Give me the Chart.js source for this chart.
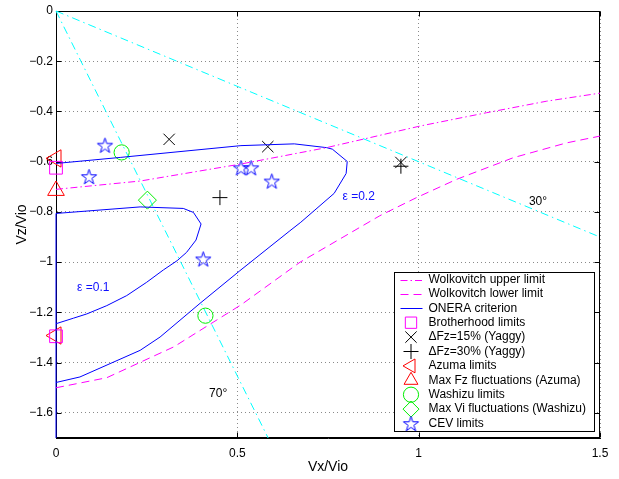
<!DOCTYPE html>
<html>
<head>
<meta charset="utf-8">
<script src="https://cdn.jsdelivr.net/npm/chart.js@4.4.1/dist/chart.umd.min.js"></script>
<style>
  html, body { margin: 0; padding: 0; background: #fff; }
</style>
</head>
<body>
<canvas id="vzChart" width="619" height="479"></canvas>
<script>
// tick values / labels
const xTickValues = [0, 0.5, 1, 1.5];
const xTickLabels = ["0", "0.5", "1", "1.5"];
const yTickValues = [0, -0.2, -0.4, -0.6, -0.8, -1, -1.2, -1.4, -1.6];
const yTickLabels = ["0", "\u22120.2", "\u22120.4", "\u22120.6", "\u22120.8", "\u22121", "\u22121.2", "\u22121.4", "\u22121.6"];

// Wolkovitch limits
const wolkUpperX = [0, 0.232, 0.507, 0.746, 1.004, 1.187, 1.353, 1.5];
const wolkUpperY = [-0.71, -0.677, -0.61, -0.544, -0.458, -0.405, -0.359, -0.327];
const wolkLowerX = [0, 0.14, 0.325, 0.51, 0.673, 0.893, 0.994, 1.105, 1.261, 1.408, 1.5];
const wolkLowerY = [-1.5, -1.46, -1.337, -1.17, -1.0, -0.815, -0.743, -0.67, -0.584, -0.525, -0.498];

// ONERA criterion, eps = 0.2 (outer) and eps = 0.1 (inner)
const oneraOuterX = [0, 0.177, 0.51, 0.657, 0.746, 0.762, 0.803, 0.8, 0.767, 0.675, 0.645, 0.507, 0.397, 0.287, 0.232, 0.149, 0.066, 0];
const oneraOuterY = [-0.607, -0.583, -0.536, -0.529, -0.544, -0.55, -0.599, -0.647, -0.726, -0.841, -0.875, -1.034, -1.164, -1.298, -1.351, -1.404, -1.457, -1.479];
const oneraInnerX = [0, 0, 0.232, 0.351, 0.379, 0.4, 0.386, 0.36, 0.334, 0.296, 0.25, 0.195, 0.14, 0.085, 0.048, 0];
const oneraInnerY = [-1.7, -0.806, -0.78, -0.786, -0.802, -0.848, -0.912, -0.961, -0.994, -1.031, -1.08, -1.133, -1.173, -1.206, -1.223, -1.245];

// 30 deg and 70 deg lines
const line30X = [0, 1.5];
const line30Y = [0, -0.9];
const line70X = [0, 0.585];
const line70Y = [0, -1.7];

// point sets
const brotherhoodX = [0, 0];
const brotherhoodY = [-0.624, -1.295];
const yaggy15X = [0.312, 0.584, 0.951];
const yaggy15Y = [-0.511, -0.54, -0.603];
const yaggy30X = [0.452, 0.951];
const yaggy30Y = [-0.743, -0.618];
const azumaX = [0, 0];
const azumaY = [-0.587, -1.292];
const azumaFzX = [0];
const azumaFzY = [-0.715];
const washizuX = [0.181, 0.412];
const washizuY = [-0.563, -1.213];
const washizuViX = [0.252];
const washizuViY = [-0.753];
const cevX = [0.135, 0.091, 0.51, 0.538, 0.595, 0.406];
const cevY = [-0.534, -0.659, -0.624, -0.624, -0.677, -0.987];

// text labels in the plot
const noteText = ["\u03b5 =0.2", "\u03b5 =0.1", "30\u00b0", "70\u00b0"];
const noteX = [0.79, 0.058, 1.304, 0.422];
const noteY = [-0.74, -1.101, -0.758, -1.524];
const noteColor = ["#1010ff", "#1010ff", "#000", "#000"];

function pts(xs, ys) {
    return xs.map((x, i) => ({ x: x, y: ys[i] }));
}

function makeStar(color, outer) {
    const size = Math.ceil(outer * 2 + 3);
    const c = document.createElement("canvas");
    c.width = size;
    c.height = size;
    const g = c.getContext("2d");
    const cx = size / 2, cy = size / 2 + 0.8;
    const inner = outer * 0.382;
    g.beginPath();
    for (let i = 0; i < 10; i++) {
        const r = i % 2 === 0 ? outer : inner;
        const ang = -Math.PI / 2 + i * Math.PI / 5;
        const px = cx + r * Math.cos(ang), py = cy + r * Math.sin(ang);
        if (i === 0) g.moveTo(px, py); else g.lineTo(px, py);
    }
    g.closePath();
    g.strokeStyle = color;
    g.lineWidth = 1;
    g.stroke();
    return c;
}

const starImg = makeStar("#0000ff", 8);

function lineSet(label, xs, ys, color, dash, extra) {
    return Object.assign({
        label: label,
        data: pts(xs, ys),
        showLine: true,
        borderColor: color,
        borderWidth: 1,
        borderDash: dash,
        pointRadius: 0,
        tension: 0,
        clip: false
    }, extra || {});
}

function markSet(label, xs, ys, color, style, radius, extra) {
    return Object.assign({
        label: label,
        data: pts(xs, ys),
        showLine: false,
        pointStyle: style,
        pointRadius: radius,
        pointBorderColor: color,
        pointBackgroundColor: "rgba(0,0,0,0)",
        pointBorderWidth: 1,
        clip: false
    }, extra || {});
}

const datasets = [
    lineSet("Wolkovitch upper limit", wolkUpperX, wolkUpperY, "#ff00ff", [7, 3, 1.5, 3]),
    lineSet("Wolkovitch lower limit", wolkLowerX, wolkLowerY, "#ff00ff", [8, 5]),
    lineSet("ONERA criterion", oneraOuterX, oneraOuterY, "#0000ff", []),
    lineSet("ONERA criterion", oneraInnerX, oneraInnerY, "#0000ff", [], { inLegend: false }),
    markSet("Brotherhood limits", brotherhoodX, brotherhoodY, "#ff00ff", "rect", 9),
    markSet("\u0394Fz=15% (Yaggy)", yaggy15X, yaggy15Y, "#000", "crossRot", 8),
    markSet("\u0394Fz=30% (Yaggy)", yaggy30X, yaggy30Y, "#000", "cross", 7.5),
    markSet("Azuma limits", azumaX, azumaY, "#ff0000", "triangle", 10, { pointRotation: -90 }),
    markSet("Max Fz fluctuations (Azuma)", azumaFzX, azumaFzY, "#ff0000", "triangle", 9.6),
    markSet("Washizu limits", washizuX, washizuY, "#00ee00", "circle", 7.6),
    markSet("Max Vi fluctuations (Washizu)", washizuViX, washizuViY, "#00ee00", "rectRot", 9),
    markSet("CEV limits", cevX, cevY, "#0000ff", starImg, 8),
    lineSet("30 deg", line30X, line30Y, "#00ffff", [8, 4, 1.5, 4], { inLegend: false }),
    lineSet("70 deg", line70X, line70Y, "#00ffff", [8, 4, 1.5, 4], { inLegend: false })
];

// box round the axes, with inward ticks on all four sides
const boxPlugin = {
    id: "matlabBox",
    beforeDatasetsDraw(chart) {
        const { ctx, chartArea: a, scales } = chart;
        const L = Math.round(a.left) + 0.5, R = Math.round(a.right) - 0.5;
        const T = Math.round(a.top) + 0.5, B = Math.round(a.bottom) - 0.5;
        ctx.save();
        ctx.strokeStyle = "#000";
        ctx.lineWidth = 1;
        ctx.strokeRect(L, T, R - L, B - T);
        ctx.beginPath();
        xTickValues.forEach(v => {
            const px = Math.round(scales.x.getPixelForValue(v)) + 0.5;
            ctx.moveTo(px, B); ctx.lineTo(px, B - 5);
            ctx.moveTo(px, T); ctx.lineTo(px, T + 5);
        });
        yTickValues.forEach(v => {
            const py = Math.round(scales.y.getPixelForValue(v)) + 0.5;
            ctx.moveTo(L, py); ctx.lineTo(L + 5, py);
            ctx.moveTo(R, py); ctx.lineTo(R - 5, py);
        });
        ctx.stroke();
        ctx.restore();
    }
};

const notePlugin = {
    id: "notes",
    afterDatasetsDraw(chart) {
        const { ctx, scales } = chart;
        ctx.save();
        ctx.font = "12px 'Liberation Sans', Arial, sans-serif";
        ctx.textAlign = "left";
        ctx.textBaseline = "middle";
        noteText.forEach((t, i) => {
            ctx.fillStyle = noteColor[i];
            ctx.fillText(t, scales.x.getPixelForValue(noteX[i]), scales.y.getPixelForValue(noteY[i]));
        });
        ctx.restore();
    }
};

const legendPlugin = {
    id: "boxLegend",
    afterDraw(chart) {
        const ctx = chart.ctx;
        const a = chart.chartArea;
        const items = chart.data.datasets.filter(d => d.inLegend !== false);
        const boxW = 200, boxH = 159;
        const left = Math.round(a.right) - 6 - boxW + 0.5;
        const top = Math.round(a.bottom) - 7 - boxH + 0.5;
        ctx.save();
        ctx.fillStyle = "#fff";
        ctx.fillRect(left, top, boxW, boxH);
        ctx.strokeStyle = "#000";
        ctx.lineWidth = 1;
        ctx.strokeRect(left, top, boxW, boxH);
        ctx.font = "12px 'Liberation Sans', Arial, sans-serif";
        ctx.textBaseline = "middle";
        ctx.textAlign = "left";
        items.forEach((d, i) => {
            const y = top + 7 + i * 14.4;
            const sx = left + 16.5;
            ctx.save();
            if (d.showLine) {
                ctx.strokeStyle = d.borderColor;
                ctx.lineWidth = 1;
                ctx.setLineDash(d.borderDash || []);
                ctx.beginPath();
                ctx.moveTo(left + 6, Math.round(y) + 0.5);
                ctx.lineTo(left + 28, Math.round(y) + 0.5);
                ctx.stroke();
            } else {
                ctx.strokeStyle = d.pointBorderColor;
                ctx.fillStyle = "rgba(0,0,0,0)";
                ctx.lineWidth = 1;
                Chart.helpers.drawPoint(ctx, {
                    pointStyle: d.pointStyle,
                    rotation: d.pointRotation || 0,
                    radius: Math.min(d.pointRadius, 8),
                    borderWidth: 1
                }, sx, y);
            }
            ctx.restore();
            ctx.fillStyle = "#000";
            ctx.fillText(d.label, left + 34, y);
        });
        ctx.restore();
    }
};

Chart.defaults.font.family = "'Liberation Sans', Arial, sans-serif";
Chart.defaults.font.size = 12;
Chart.defaults.color = "#000";

const ctx = document.getElementById("vzChart").getContext("2d");
const vzChart = new Chart(ctx, {
    type: "scatter",
    data: { datasets: datasets },
    options: {
        responsive: false,
        animation: false,
        devicePixelRatio: 1,
        events: [],
        layout: { padding: { top: 10, right: 19, bottom: 0, left: 0 } },
        plugins: {
            legend: { display: false },
            tooltip: { enabled: false }
        },
        scales: {
            x: {
                type: "linear",
                min: 0,
                max: 1.5,
                afterBuildTicks: scale => { scale.ticks = xTickValues.map(v => ({ value: v })); },
                afterFit: scale => { scale.height = 41; },
                ticks: {
                    padding: 8,
                    font: { size: 12 },
                    callback: v => xTickLabels[xTickValues.findIndex(t => Math.abs(t - v) < 1e-6)]
                },
                grid: { color: "#8a8a8a", lineWidth: 1, drawTicks: false },
                border: { display: true, color: "#000", width: 1, dash: [1, 3] },
                title: { display: true, text: "Vx/Vio", font: { size: 14 }, padding: { top: 0, bottom: 3 } }
            },
            y: {
                type: "linear",
                min: -1.7,
                max: 0,
                afterBuildTicks: scale => { scale.ticks = yTickValues.slice().reverse().map(v => ({ value: v })); },
                afterFit: scale => { scale.width = 56; },
                ticks: {
                    padding: 3,
                    font: { size: 12 },
                    callback: v => yTickLabels[yTickValues.findIndex(t => Math.abs(t - v) < 1e-6)]
                },
                grid: { color: "#8a8a8a", lineWidth: 1, drawTicks: false },
                border: { display: true, color: "#000", width: 1, dash: [1, 3] },
                title: { display: true, text: "Vz/Vio", font: { size: 14 }, padding: { top: 14, bottom: 0 } }
            }
        }
    },
    plugins: [boxPlugin, notePlugin, legendPlugin]
});
</script>
</body>
</html>
